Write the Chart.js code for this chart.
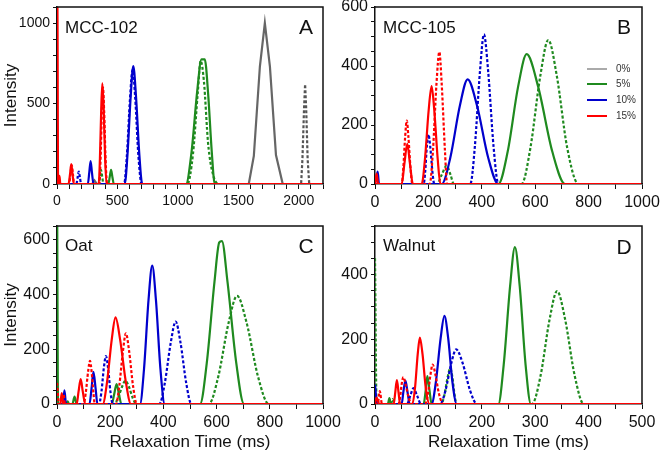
<!DOCTYPE html>
<html>
<head>
<meta charset="utf-8">
<script src="https://cdn.jsdelivr.net/npm/chart.js@4.4.1/dist/chart.umd.min.js"></script>
<style>
  body { margin: 0; background: #fff; }
  #wrap { position: relative; width: 660px; height: 454px; overflow: hidden; font-family: Arial, 'Liberation Sans', sans-serif; }
  canvas { position: absolute; }
  .lbl { position: absolute; color: #111; white-space: nowrap; line-height: 1; transform: translateY(-50%); }
  .letter { position: absolute; color: #111; font-size: 21px; line-height: 1; transform: translate(-50%, -50%); }
  .leg-line { position: absolute; width: 20px; height: 2px; }
  .leg-text { position: absolute; font-size: 10px; color: #333; line-height: 1; transform: translateY(-50%); }
</style>
</head>
<body>
<div id="wrap">
  <canvas id="chartA" width="330" height="227" style="left:0;top:0"></canvas>
  <canvas id="chartB" width="330" height="227" style="left:330px;top:0"></canvas>
  <canvas id="chartC" width="345" height="230" style="left:0;top:224px"></canvas>
  <canvas id="chartD" width="330" height="230" style="left:330px;top:224px"></canvas>
</div>
<script>
// Panel names and letters
const panelNames = ['MCC-102', 'MCC-105', 'Oat', 'Walnut'];
const panelLetters = ['A', 'B', 'C', 'D'];
const legendLabels = ['0%', '5%', '10%', '15%'];
const legendColors = ['#aaaaaa', '#1f8a1f', '#0000cc', '#ff0000'];

// Series colours
const gray = '#666666';
const green = '#1f8a1f';
const blue = '#0000cc';
const red = '#ff0000';

// Panel A - MCC-102 ([time ms, intensity])
const redA = [[0,0],[2,1500],[9,0],[14,0],[20,50],[28,0],[95,0],[108,62],[118,123],[128,62],[140,0],[345,0],[355,156],[366,470],[375,625],[386,470],[398,156],[410,0],[2200,0]];
const redDashA = [[0,0],[100,0],[111,59],[122,118],[132,59],[142,0],[350,0],[360,150],[371,450],[380,600],[390,450],[402,150],[415,0],[2200,0]];
const blueA = [[0,480],[6,0],[255,0],[267,72],[278,143],[289,72],[302,0],[560,0],[583,183],[610,550],[631,733],[653,550],[681,183],[705,0],[2200,0]];
const blueDashA = [[0,100],[6,0],[160,0],[170,38],[180,77],[190,38],[200,0],[555,0],[578,178],[604,533],[625,710],[647,533],[673,178],[700,0],[2200,0]];
const greenA = [[0,0],[425,0],[436,44],[447,88],[458,44],[470,0],[1067,0],[1112,194],[1160,580],[1195,775],[1222,775],[1250,560],[1280,200],[1305,0],[2200,0]];
const greenDashA = [[0,0],[345,0],[355,44],[364,88],[374,44],[385,0],[1078,0],[1125,190],[1165,575],[1188,765],[1215,640],[1250,250],[1290,60],[1340,0],[2200,0]];
const grayA = [[0,0],[290,0],[310,22],[330,0],[1586,0],[1628,175],[1678,730],[1719,1000],[1761,730],[1811,180],[1867,0],[2200,0]];
const grayDashA = [[0,0],[2019,0],[2030,155],[2043,465],[2052,620],[2061,465],[2073,155],[2086,0],[2200,0]];

// Panel B - MCC-105
const redB = [[0,0],[6,35],[12,0],[100,0],[110,68],[121,136],[131,68],[142,0],[175,0],[187,83],[201,250],[212,332],[222,250],[235,83],[245,0],[1000,0]];
const redDashB = [[0,0],[100,0],[106,54],[113,161],[119,215],[125,161],[133,54],[140,0],[205,0],[217,112],[230,336],[241,448],[250,336],[262,112],[270,0],[1000,0]];
const blueB = [[0,0],[5,20],[10,42],[15,0],[250,0],[282,89],[318,266],[347,355],[382,266],[424,89],[462,0],[1000,0]];
const blueDashB = [[0,0],[182,0],[188,42],[194,126],[200,168],[207,126],[215,42],[222,0],[357,0],[374,127],[393,380],[408,507],[424,380],[444,127],[462,0],[1000,0]];
const greenB = [[0,0],[462,0],[497,110],[536,330],[568,440],[611,330],[664,110],[712,0],[1000,0]];
const greenDashB = [[0,0],[232,0],[250,31],[268,62],[283,31],[295,0],[549,0],[582,122],[619,366],[649,488],[681,366],[720,122],[762,0],[1000,0]];

// Panel C - Oat
const redC = [[0,0],[12,0],[18,40],[24,0],[74,0],[81,45],[89,91],[97,45],[106,0],[172,0],[188,79],[206,237],[220,316],[237,237],[259,79],[278,0],[1000,0]];
const redDashC = [[0,77],[8,0],[20,0],[25,35],[30,0],[100,0],[108,40],[117,119],[124,158],[130,119],[137,40],[142,0],[222,0],[234,65],[248,194],[259,258],[271,194],[286,65],[300,0],[1000,0]];
const blueC = [[0,0],[22,0],[28,50],[34,0],[122,0],[130,58],[137,117],[145,58],[152,0],[312,0],[327,126],[344,379],[358,505],[372,379],[389,126],[405,0],[1000,0]];
const blueDashC = [[0,0],[158,0],[167,44],[176,131],[184,175],[192,131],[201,44],[210,0],[385,0],[405,75],[428,226],[446,301],[464,226],[486,75],[505,0],[1000,0]];
const greenC = [[0,900],[4,0],[35,0],[40,10],[45,0],[58,0],[66,27],[74,0],[206,0],[215,36],[224,73],[233,36],[242,0],[538,0],[563,149],[592,446],[610,590],[620,595],[641,446],[674,149],[703,0],[1000,0]];
const greenDashC = [[0,0],[215,0],[229,21],[245,64],[257,85],[270,64],[285,21],[298,0],[571,0],[606,99],[645,296],[677,395],[713,296],[756,99],[796,0],[1000,0]];

// Panel D - Walnut
const redD = [[0,0],[3,20],[8,0],[35,0],[38,37],[41,74],[44,37],[47,0],[70,0],[75,51],[80,154],[84,205],[89,154],[95,51],[102,0],[500,0]];
const redDashD = [[0,0],[5,0],[9,40],[13,0],[44,0],[47,21],[50,62],[53,83],[57,62],[63,21],[68,0],[94,0],[99,30],[104,92],[108,122],[113,92],[120,30],[128,0],[500,0]];
const blueD = [[0,60],[4,0],[50,0],[53,36],[57,72],[61,36],[65,0],[106,0],[114,68],[123,204],[130,272],[137,204],[145,68],[153,0],[500,0]];
const blueDashD = [[0,30],[6,0],[60,0],[66,25],[72,49],[79,25],[86,0],[122,0],[132,42],[143,127],[152,169],[164,127],[178,42],[191,0],[500,0]];
const greenD = [[0,0],[24,0],[27,18],[30,0],[91,0],[95,43],[98,86],[102,43],[106,0],[231,0],[241,121],[253,364],[262,485],[271,364],[282,121],[292,0],[500,0]];
const greenDashD = [[0,450],[3,0],[30,0],[33,15],[36,0],[124,0],[130,28],[136,82],[141,110],[145,82],[149,28],[153,0],[294,0],[310,87],[327,262],[341,349],[356,262],[374,87],[391,0],[500,0]];

const FONT = "Arial, 'Liberation Sans', sans-serif";

// Build a line dataset
function series(points, color, dashed, straight) {
    return {
        data: points.map(p => ({ x: p[0], y: p[1] })),
        borderColor: color,
        borderWidth: 2.2,
        borderDash: dashed ? [3, 2] : [],
        pointRadius: 0,
        fill: false,
        tension: 0,
        cubicInterpolationMode: straight ? 'default' : 'monotone'
    };
}

// Top + right border of each plot box
const framePlugin = {
    id: 'frame',
    afterDatasetsDraw(chart) {
        const { ctx, chartArea: a } = chart;
        ctx.save();
        ctx.strokeStyle = '#111';
        ctx.lineWidth = 1.5;
        ctx.beginPath();
        ctx.moveTo(a.left, a.top);
        ctx.lineTo(a.right, a.top);
        ctx.lineTo(a.right, a.bottom);
        ctx.stroke();
        ctx.restore();
    }
};

function makePanel(id, datasets, p) {
    new Chart(document.getElementById(id), {
        type: 'line',
        data: { datasets: datasets },
        options: {
            responsive: false,
            animation: false,
            devicePixelRatio: 1,
            layout: { padding: { top: p.padTop, right: p.padRight, left: 0, bottom: 0 } },
            plugins: { legend: { display: false }, tooltip: { enabled: false } },
            scales: {
                x: {
                    type: 'linear',
                    min: 0,
                    max: p.xMax,
                    afterBuildTicks: s => {
                        const t = [];
                        for (let v = 0; v <= p.xMax; v += p.xStep) t.push({ value: v });
                        s.ticks = t;
                    },
                    afterFit: s => { s.height = p.xHeight; s.paddingLeft = 0; s.paddingRight = 0; },
                    ticks: {
                        autoSkip: false,
                        maxRotation: 0,
                        padding: 4,
                        color: '#111',
                        font: { family: FONT, size: p.fontSize },
                        callback: v => (v % p.xLabelEvery === 0 ? v : '')
                    },
                    grid: { drawOnChartArea: false, tickLength: 5, tickColor: '#111', tickWidth: 1 },
                    border: { display: true, color: '#111', width: 1.5 },
                    title: {
                        display: p.xTitle,
                        text: 'Relaxation Time (ms)',
                        color: '#111',
                        font: { family: FONT, size: 17 },
                        padding: { top: 0, bottom: 1 }
                    }
                },
                y: {
                    type: 'linear',
                    min: 0,
                    max: p.yMax,
                    afterBuildTicks: s => {
                        const t = [];
                        for (let v = 0; v <= p.yMax; v += p.yStep) t.push({ value: v });
                        s.ticks = t;
                    },
                    afterFit: s => { s.width = p.yWidth; s.paddingTop = 0; s.paddingBottom = 0; },
                    ticks: {
                        autoSkip: false,
                        padding: 3,
                        color: '#111',
                        font: { family: FONT, size: p.fontSize },
                        callback: v => (v % p.yLabelEvery === 0 ? v : '')
                    },
                    grid: { drawOnChartArea: false, tickLength: 4, tickColor: '#111', tickWidth: 1 },
                    border: { display: true, color: '#111', width: 1.5 },
                    title: {
                        display: p.yTitle,
                        text: 'Intensity',
                        color: '#111',
                        font: { family: FONT, size: 17 },
                        padding: { top: 1, bottom: 0 }
                    }
                }
            }
        },
        plugins: [framePlugin]
    });
}

makePanel('chartA', [
    series(redA, red, false), series(redDashA, red, true),
    series(blueA, blue, false), series(blueDashA, blue, true),
    series(greenA, green, false), series(greenDashA, green, true),
    series(grayA, gray, false, true), series(grayDashA, '#555555', true, true)
], { padTop: 7, padRight: 7, xMax: 2200, xStep: 100, xLabelEvery: 500, yMax: 1100, yStep: 100, yLabelEvery: 500,
     xHeight: 43, yWidth: 57, fontSize: 14, xTitle: false, yTitle: true });

makePanel('chartB', [
    series(redB, red, false), series(redDashB, red, true),
    series(blueB, blue, false), series(blueDashB, blue, true),
    series(greenB, green, false), series(greenDashB, green, true)
], { padTop: 7, padRight: 18, xMax: 1000, xStep: 100, xLabelEvery: 200, yMax: 600, yStep: 50, yLabelEvery: 200,
     xHeight: 43, yWidth: 45, fontSize: 16, xTitle: false, yTitle: false });

makePanel('chartC', [
    series(redC, red, false), series(redDashC, red, true),
    series(blueC, blue, false), series(blueDashC, blue, true),
    series(greenC, green, false), series(greenDashC, green, true)
], { padTop: 2, padRight: 22, xMax: 1000, xStep: 100, xLabelEvery: 200, yMax: 650, yStep: 50, yLabelEvery: 200,
     xHeight: 50, yWidth: 57, fontSize: 16, xTitle: true, yTitle: true });

makePanel('chartD', [
    series(redD, red, false), series(redDashD, red, true),
    series(blueD, blue, false), series(blueDashD, blue, true),
    series(greenD, green, false), series(greenDashD, green, true)
], { padTop: 2, padRight: 18, xMax: 500, xStep: 50, xLabelEvery: 100, yMax: 550, yStep: 50, yLabelEvery: 200,
     xHeight: 50, yWidth: 45, fontSize: 16, xTitle: true, yTitle: false });

// Panel names, letters and legend as real text
const wrap = document.getElementById('wrap');
const namePos = [[65, 27], [383, 27], [65, 245], [383, 245]];
const letterPos = [[306, 26], [624, 26], [306, 245], [624, 246]];
panelNames.forEach((name, i) => {
    const d = document.createElement('div');
    d.className = 'lbl';
    d.style.fontSize = '17px';
    d.style.left = namePos[i][0] + 'px';
    d.style.top = namePos[i][1] + 'px';
    d.textContent = name;
    wrap.appendChild(d);
    const l = document.createElement('div');
    l.className = 'letter';
    l.style.left = letterPos[i][0] + 'px';
    l.style.top = letterPos[i][1] + 'px';
    l.textContent = panelLetters[i];
    wrap.appendChild(l);
});
const legendY = [69, 84, 100, 116];
legendLabels.forEach((lab, i) => {
    const line = document.createElement('div');
    line.className = 'leg-line';
    line.style.left = '587px';
    line.style.top = (legendY[i] - 1) + 'px';
    line.style.background = legendColors[i];
    wrap.appendChild(line);
    const t = document.createElement('div');
    t.className = 'leg-text';
    t.style.left = '616px';
    t.style.top = legendY[i] + 'px';
    t.textContent = lab;
    wrap.appendChild(t);
});
</script>
</body>
</html>
